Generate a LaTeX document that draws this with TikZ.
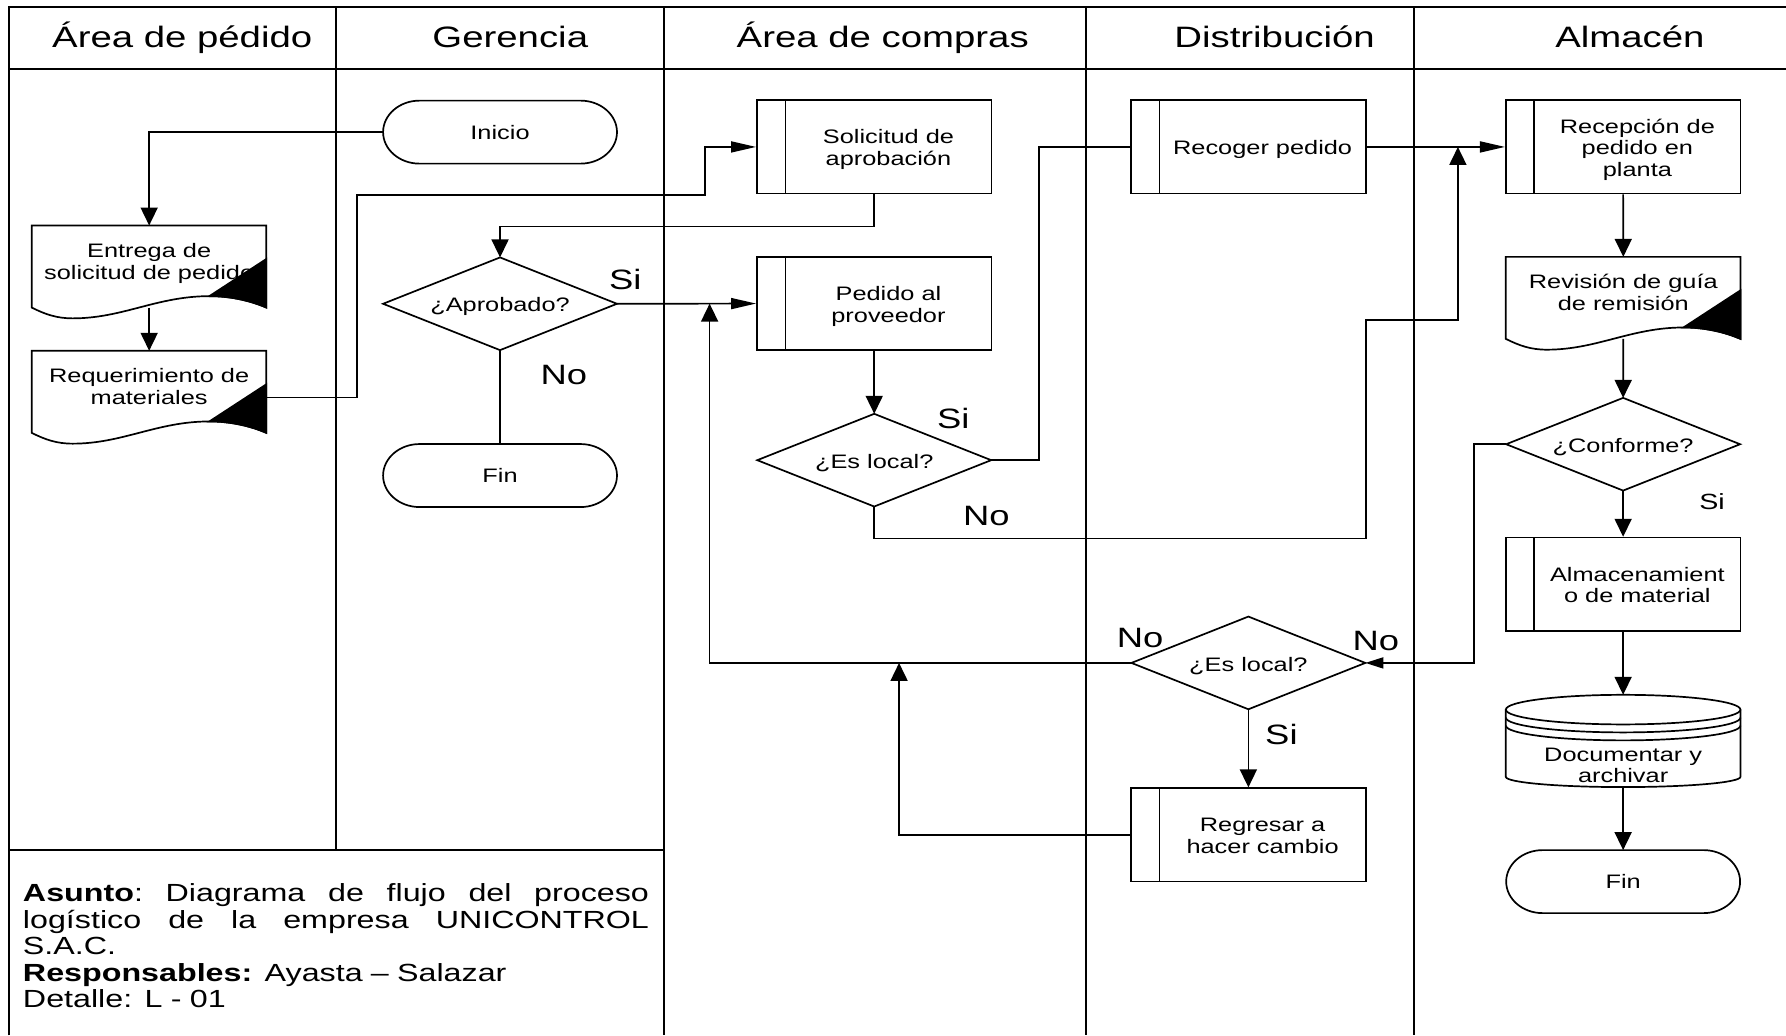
\documentclass[tikz,border=0pt]{standalone}
\usepackage{fontspec}
\setmainfont{Liberation Sans}[FakeStretch=1.3]
\usetikzlibrary{arrows.meta,calc}
\newcommand\fNode{\fontsize{19.5pt}{21.6pt}\selectfont}
\newcommand\fHdr{\fontsize{29.5pt}{32pt}\selectfont}
\newcommand\fLbl{\fontsize{28pt}{30pt}\selectfont}
\newcommand\fLblS{\fontsize{22pt}{24pt}\selectfont}
\newcommand\fInfo{\fontsize{24.8pt}{26.5pt}\selectfont}
\newcommand\ptxt[1]{\hspace*{28.5pt}\raisebox{-3.4pt}[\height][\depth]{\begin{tabular}{@{}c@{}}#1\end{tabular}}}
\newcommand\dtxt[1]{\raisebox{-2.8pt}[\height][\depth]{#1}}
\newcommand\jline[1]{\makebox[626pt][s]{\frenchspacing\spaceskip=0pt\xspaceskip=0pt\relax #1}}
\newcommand\docoutline[1]{%
  \begin{scope}[shift={(#1.north west)}]
    \draw[shp] (0,72) -- (0,0) -- (206,0) -- (206,72)
      .. controls (192,66) and (175,62) .. (156,62)
      .. controls (110,62) and (80,81.5) .. (36,81.5)
      .. controls (22,81.5) and (12,78) .. (0,72) -- cycle;
    \filldraw[shp,fill=black] (206,29.4) -- (156,62)
      .. controls (175,62) and (192,66) .. (206,72) -- cycle;
  \end{scope}}
\newcommand\termoutline[1]{%
  \draw[shp] ($(#1.north west)+(32,0)$) -- ($(#1.north east)+(-32,0)$)
    .. controls ($(#1.north east)+(-14.3,0)$) and ($(#1.east)+(0,-15.2)$) .. (#1.east)
    .. controls ($(#1.east)+(0,15.2)$) and ($(#1.south east)+(-14.3,0)$) .. ($(#1.south east)+(-32,0)$)
    -- ($(#1.south west)+(32,0)$)
    .. controls ($(#1.south west)+(14.3,0)$) and ($(#1.west)+(0,15.2)$) .. (#1.west)
    .. controls ($(#1.west)+(0,-15.2)$) and ($(#1.north west)+(14.3,0)$) .. ($(#1.north west)+(32,0)$) -- cycle;}
\newcommand\decoutline[1]{%
  \draw[shp] (#1.north) -- (#1.east) -- (#1.south) -- (#1.west) -- cycle;}
\begin{document}
\begin{tikzpicture}[x=1.139pt,y=-1.139pt,
  every node/.style={inner sep=0pt, font=\fNode},
  frame/.style={line width=2pt},
  shp/.style={line width=1.7pt},
  conn/.style={line width=1.7pt},
  va/.style={conn,-{Triangle[length=18pt,width=17pt]}},
  ha/.style={conn,-{Triangle[length=25pt,width=11pt]}},
  hs/.style={conn,-{Triangle[length=18pt,width=11pt]}},
  procbox/.style={draw, line width=1.7pt, rectangle, minimum width=234.6pt, minimum height=93.4pt,
    path picture={\draw[line width=1.7pt] ([xshift=28.5pt]path picture bounding box.north west) -- ([xshift=28.5pt]path picture bounding box.south west);}},
  termbox/.style={rectangle, minimum width=233.5pt, minimum height=62.6pt},
  decbox/.style={rectangle, minimum width=233.5pt, minimum height=92.3pt},
  docbox/.style={rectangle, minimum width=234.6pt, minimum height=70.6pt, anchor=north west, align=center},
  hdr/.style={font=\fHdr, anchor=base},
  lbl/.style={font=\fLbl},
  lbls/.style={font=\fLblS}]
\useasboundingbox (0,0) rectangle (1568,909);

% frame and lanes
\draw[frame] (8,909) -- (8,6) -- (1568,6);
\draw[frame] (8,61) -- (1568,61);
\draw[frame] (295,6) -- (295,746);
\draw[frame] (583,6) -- (583,909);
\draw[frame] (953,6) -- (953,909);
\draw[frame] (1241,6) -- (1241,909);
\draw[frame] (8,746) -- (583,746);

% headers
\node[hdr] (h1) at (160,42) {Área de pédido};
\node[hdr] (h2) at (448,42) {Gerencia};
\node[hdr] (h3) at (775,42) {Área de compras};
\node[hdr] (h4) at (1119,42) {Distribución};
\node[hdr] (h5) at (1431,42) {Almacén};

% nodes
\node[termbox] (inicio) at (439,116) {Inicio};
\termoutline{inicio}
\node[docbox, minimum height=75pt] (entrega) at (27.8,198) {Entrega de\\solicitud de pedido};
\docoutline{entrega}
\node[docbox] (req) at (27.8,308) {Requerimiento de\\materiales};
\docoutline{req}
\node[decbox] (aprob) at (439,266.7) {\dtxt{¿Aprobado?}};
\decoutline{aprob}
\node[termbox] (fin1) at (439,417.5) {Fin};
\termoutline{fin1}
\node[procbox] (sol) at (767.5,129) {\ptxt{Solicitud de\\aprobación}};
\node[procbox] (ped) at (767.5,266.5) {\ptxt{Pedido al\\proveedor}};
\node[decbox] (local1) at (767.5,404) {\dtxt{¿Es local?}};
\decoutline{local1}
\node[procbox] (rec) at (1096,129) {\ptxt{Recoger pedido}};
\node[procbox] (recep) at (1425,129) {\ptxt{Recepción de\\pedido en\\planta}};
\node[docbox] (rev) at (1322,225.5) {Revisión de guía\\de remisión};
\docoutline{rev}
\node[decbox] (conf) at (1425,390) {\dtxt{¿Conforme?}};
\decoutline{conf}
\node[procbox] (alm) at (1425,513) {\ptxt{Almacenamient\\o de material}};
\node[align=center] (docu) at (1425,672) {Documentar y\\archivar};
\begin{scope}[shift={(docu.center)}]
  \draw[shp] (0,-49) ellipse [x radius=117.3pt, y radius=14.8pt];
  \draw[shp] (-103,-42) .. controls (-103,-34.8) and (-56.9,-29) .. (0,-29) .. controls (56.9,-29) and (103,-34.8) .. (103,-42);
  \draw[shp] (-103,-35) .. controls (-103,-27.8) and (-56.9,-22) .. (0,-22) .. controls (56.9,-22) and (103,-27.8) .. (103,-35);
  \draw[shp] (-103,-49) -- (-103,10) .. controls (-103,15) and (-56.9,19) .. (0,19) .. controls (56.9,19) and (103,15) .. (103,10) -- (103,-49);
\end{scope}
\coordinate (docu-top) at ($(docu.center)+(0,-62)$);
\coordinate (docu-bot) at ($(docu.center)+(0,19)$);
\node[termbox] (fin2) at (1425,774) {Fin};
\termoutline{fin2}
\node[decbox] (local2) at (1096,582) {\dtxt{¿Es local?}};
\decoutline{local2}
\node[procbox] (reg) at (1096,733) {\ptxt{Regresar a\\hacer cambio}};

% info
\node[anchor=north west, text width=626pt, align=left, font=\fInfo] (info) at (20,775.7)
 {\jline{\textbf{Asunto}: Diagrama de flujo del proceso}\\
  \jline{logístico de la empresa UNICONTROL}\\
  S.A.C.\\
  \textbf{Responsables:} Ayasta – Salazar\\
  Detalle: L - 01};

% connectors
\coordinate (entrega-b) at ($(entrega.north)+(0,72)$);
\coordinate (req-out) at ($(req.north east)+(0,41)$);
\coordinate (rev-b) at ($(rev.north)+(0,72)$);
\draw[va] (inicio.west) -| (entrega.north);
\draw[va] (entrega-b) -- (req.north);
\draw[ha] (req-out) -| (313.7,171) -| ($(sol.west)+(-45,0)$) -- (sol.west);
\draw[va] (sol.south) -- ++(0,28) -| (aprob.north);
\draw[ha] (aprob.east) -- (ped.west);
\draw[conn] (aprob.south) -- (fin1.north);
\draw[va] (ped.south) -- (local1.north);
\draw[conn] (local1.east) -- ++(42,0) |- (rec.west);
\draw[ha] (rec.east) -- (recep.west);
\draw[va] (local1.south) -- ++(0,28) -| (1199,281) -| ($(rec.east)!0.66!(recep.west)$);
\draw[va] (recep.south) -- (rev.north);
\draw[va] (rev-b) -- (conf.north);
\draw[va] (conf.south) -- (alm.north);
\draw[hs] (conf.west) -- ++(-28,0) |- (local2.east);
\draw[va] (alm.south) -- (docu-top);
\draw[va] (docu-bot) -- (fin2.north);
\draw[va] (local2.west) -| ($(aprob.east)!0.666!(ped.west)$);
\draw[va] (local2.south) -- (reg.north);
\draw[va] (reg.west) -| ($(local2.west)+(-204,0)$);

% labels
\node[lbl] (l1) at (549,245) {Si};
\node[lbl] (l2) at (495,329) {No};
\node[lbl] (l3) at (837,367) {Si};
\node[lbl] (l4) at (866,453) {No};
\node[lbls] (l5) at (1503,440) {Si};
\node[lbl] (l6) at (1208,563) {No};
\node[lbl] (l7) at (1001,560) {No};
\node[lbl] (l8) at (1125,645) {Si};
\end{tikzpicture}
\end{document}
